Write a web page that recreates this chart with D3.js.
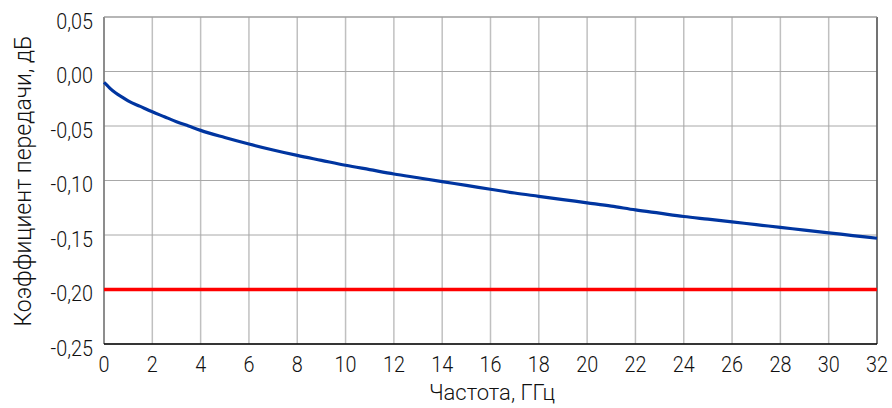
<!DOCTYPE html>
<html><head><meta charset="utf-8">
<script src="https://cdn.jsdelivr.net/npm/d3@7"></script>
<style>body{margin:0;background:#fff}svg{display:block}</style>
</head><body>
<svg id="c" width="892" height="408"></svg>
<script>
const freq = [0,0.1,0.25,0.5,0.75,1,1.5,2,2.5,3,3.5,4,5,6,7,8,9,10,11,12,13,14,15,16,17,18,19,20,21,22,23,24,25,26,27,28,29,30,31,32];
const s21  = [-0.010,-0.012,-0.0155,-0.020,-0.0235,-0.027,-0.032,-0.037,-0.0415,-0.046,-0.050,-0.054,-0.0605,-0.0665,-0.072,-0.077,-0.0815,-0.086,-0.090,-0.094,-0.0975,-0.101,-0.1045,-0.108,-0.1115,-0.1145,-0.1175,-0.1205,-0.1235,-0.127,-0.130,-0.133,-0.1355,-0.138,-0.1405,-0.143,-0.1455,-0.148,-0.1505,-0.153];
const limit = -0.20;
const xTicks = [0,2,4,6,8,10,12,14,16,18,20,22,24,26,28,30,32];
const yTicks = [0.05,0.00,-0.05,-0.10,-0.15,-0.20,-0.25];
const xTitle = "Частота, ГГц";
const yTitle = "Коэффициент передачи, дБ";

const svg = d3.select("#c");
const L=104, R=877, T=17, B=344;
const x = d3.scaleLinear().domain([0,32]).range([L,R]);
const y = d3.scaleLinear().domain([-0.25,0.05]).range([B,T]);
const font = "Roboto, sans-serif";
const fmt = d => d3.format(".2f")(d).replace(".",",").replace("−","-");

// grid
svg.append("g").selectAll("line").data(xTicks).join("line")
  .attr("x1",d=>x(d)).attr("x2",d=>x(d)).attr("y1",T).attr("y2",B)
  .attr("stroke","#c0c0c0").attr("stroke-width",1.5);
svg.append("g").selectAll("line").data(yTicks).join("line")
  .attr("x1",L).attr("x2",R).attr("y1",d=>y(d)).attr("y2",d=>y(d))
  .attr("stroke","#a8a8a8").attr("stroke-width",1);

// frame
svg.append("line").attr("x1",L).attr("x2",L).attr("y1",T).attr("y2",B).attr("stroke","#777").attr("stroke-width",1.5);
svg.append("line").attr("x1",R).attr("x2",R).attr("y1",T).attr("y2",B).attr("stroke","#555").attr("stroke-width",1.5);
svg.append("line").attr("x1",L).attr("x2",R).attr("y1",T).attr("y2",T).attr("stroke","#999").attr("stroke-width",1);
svg.append("line").attr("x1",L).attr("x2",R).attr("y1",B).attr("y2",B).attr("stroke","#000").attr("stroke-width",1.5);

// limit line
svg.append("line").attr("x1",x(0)).attr("x2",x(32)).attr("y1",y(limit)).attr("y2",y(limit))
  .attr("stroke","#ff0000").attr("stroke-width",3.5);

// curve
svg.append("path").datum(freq.map((f,i)=>[f,s21[i]]))
  .attr("fill","none").attr("stroke","#0035a0").attr("stroke-width",3.2).attr("stroke-linejoin","round")
  .attr("d", d3.line().x(d=>x(d[0])).y(d=>y(d[1])).curve(d3.curveMonotoneX));

// tick labels
svg.append("g").selectAll("text").data(yTicks).join("text")
  .attr("transform",d=>`translate(${L-11},${y(d)+4}) scale(0.9,1)`).attr("dy","0.36em").attr("text-anchor","end")
  .attr("font-family",font).attr("font-weight",300).attr("font-size",22).attr("fill","#111").text(fmt);
svg.append("g").selectAll("text").data(xTicks).join("text")
  .attr("transform",d=>`translate(${x(d)},${B+28}) scale(0.9,1)`).attr("text-anchor","middle")
  .attr("font-family",font).attr("font-weight",300).attr("font-size",22).attr("fill","#111").text(d=>d);

// titles
svg.append("text").attr("x",492).attr("y",400).attr("text-anchor","middle")
  .attr("font-family",font).attr("font-weight",300).attr("font-size",22).attr("fill","#111").text(xTitle);
svg.append("text").attr("transform","translate(31,181) rotate(-90)").attr("text-anchor","middle")
  .attr("font-family",font).attr("font-weight",300).attr("font-size",23).attr("fill","#111").text(yTitle);
</script>
</body></html>
